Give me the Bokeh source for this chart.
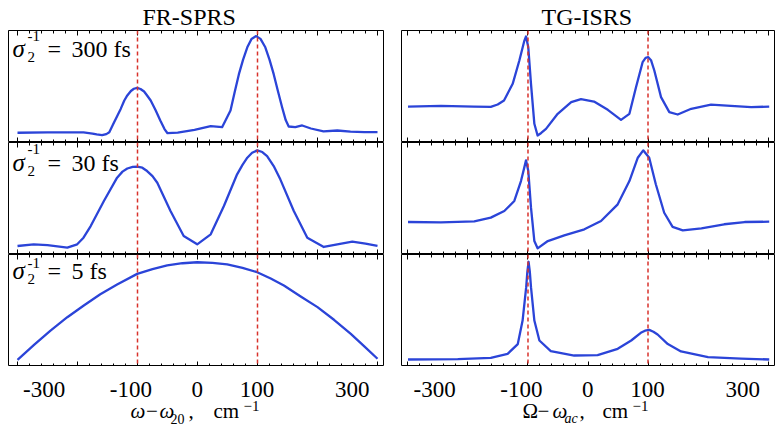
from bokeh.plotting import figure
from bokeh.models import (Range1d, LinearAxis, FixedTicker, Span, Title,
                          CustomLabelingPolicy)
from bokeh.core.properties import value
from bokeh.layouts import row, column
from bokeh.embed import file_html
from bokeh.resources import INLINE

# ---------------- data ----------------
column_titles = ["FR-SPRS", "TG-ISRS"]
pulse_widths = ["300", "30", "5"]          # sigma_2^-1 in fs, one per row
major_ticks = [-300, -200, -100, 0, 100, 200, 300]
minor_ticks = [-300, -280, -260, -240, -220, -200, -180, -160, -140, -120, -100,
               -80, -60, -40, -20, 0, 20, 40, 60, 80, 100, 120, 140, 160, 180,
               200, 220, 240, 260, 280, 300]
tick_label_text = ["-300", "-100", "0", "100", "300"]
mode_positions = [-100, 100]
x_label_parts = [["ω", "−", "ω", "20", ",", "cm", "−1"],
                 ["Ω", "−", "ω", "ac", ",", "cm", "−1"]]

# FR-SPRS, sigma^-1 = 300 fs
sprs300_x = [-300, -250, -190, -175, -168, -159, -152, -147, -140, -134, -128, -122, -117,
             -111, -106, -100.5, -95, -89, -84, -78, -70, -62, -55, -50, -33, -5, 22, 41,
             55, 62, 69, 76, 83, 90, 97.8, 105, 113, 120, 127, 134, 141, 147, 152, 163,
             174.5, 189, 210, 233, 255, 278, 300]
sprs300_y = [0.087, 0.09, 0.09, 0.08, 0.072, 0.065, 0.075, 0.092, 0.17, 0.235, 0.3, 0.375,
             0.42, 0.46, 0.48, 0.488, 0.478, 0.455, 0.42, 0.375, 0.29, 0.196, 0.12, 0.083,
             0.089, 0.113, 0.146, 0.137, 0.286, 0.45, 0.61, 0.74, 0.85, 0.925, 0.95, 0.925,
             0.85, 0.74, 0.61, 0.46, 0.315, 0.2, 0.143, 0.137, 0.152, 0.125, 0.1, 0.107,
             0.098, 0.092, 0.092]
# TG-ISRS, sigma^-1 = 300 fs
isrs300_x = [-300, -245, -190, -162, -150.5, -140, -125.5, -114.4, -106, -103.3, -99.5, -95,
             -89.4, -84, -78, -70, -50.5, -28, -11.7, 10, 33, 55, 69, 80, 91, 96, 100.5, 105,
             110.5, 121.7, 135.5, 149.5, 172, 205, 238, 272, 302]
isrs300_y = [0.321, 0.327, 0.321, 0.318, 0.339, 0.375, 0.524, 0.732, 0.91, 0.946, 0.85, 0.524,
             0.167, 0.0625, 0.085, 0.122, 0.256, 0.36, 0.387, 0.366, 0.292, 0.202, 0.256,
             0.494, 0.717, 0.755, 0.762, 0.735, 0.643, 0.405, 0.271, 0.25, 0.301, 0.339,
             0.327, 0.315, 0.321]
# FR-SPRS, sigma^-1 = 30 fs
sprs30_x = [-300, -273, -250, -217, -200.5, -190, -178, -156, -134, -125, -117, -108, -100.5,
            -92, -84, -75, -67, -45, -23, -0.5, 22, 44, 66, 75, 83, 91, 99.5, 108, 116, 127,
            138, 160.5, 183, 210.5, 233, 258, 280, 300]
sprs30_y = [0.076, 0.091, 0.083, 0.061, 0.091, 0.15, 0.254, 0.478, 0.686, 0.74, 0.768, 0.782,
            0.784, 0.775, 0.745, 0.7, 0.641, 0.388, 0.165, 0.091, 0.18, 0.433, 0.716, 0.8,
            0.864, 0.908, 0.93, 0.915, 0.879, 0.79, 0.671, 0.388, 0.149, 0.067, 0.091, 0.114,
            0.097, 0.076]
# TG-ISRS, sigma^-1 = 30 fs
isrs30_x = [-300, -245, -189.5, -162, -139.5, -122.8, -111.7, -106, -103.3, -99.5, -95,
            -89.4, -84, -67, -39.5, -6, 21.7, 49.5, 69, 83, 92, 102, 113, 127, 141, 158,
            189, 227, 261, 302]
isrs30_y = [0.29, 0.287, 0.295, 0.329, 0.388, 0.478, 0.656, 0.78, 0.841, 0.746, 0.418,
            0.12, 0.055, 0.12, 0.171, 0.225, 0.299, 0.448, 0.656, 0.864, 0.93, 0.864,
            0.627, 0.373, 0.246, 0.216, 0.234, 0.27, 0.29, 0.293]
# FR-SPRS, sigma^-1 = 5 fs
sprs5_x = [-300, -272, -245, -217, -189.5, -162, -134, -100.5, -75, -50.5, -25, -0.5, 25,
           49.5, 75, 99.5, 122, 144, 172, 200, 228, 255.5, 278, 300]
sprs5_y = [0.06, 0.195, 0.321, 0.44, 0.545, 0.645, 0.732, 0.827, 0.87, 0.902, 0.922, 0.931,
           0.925, 0.911, 0.88, 0.842, 0.785, 0.723, 0.625, 0.53, 0.415, 0.292, 0.18, 0.069]
# TG-ISRS, sigma^-1 = 5 fs
isrs5_x = [-300, -217, -162, -134, -117, -109, -103, -101, -99, -97, -95, -89.4, -81, -62,
           -23, 16, 49.5, 72, 88, 95, 102, 109, 116, 133, 155, 200, 255, 302]
isrs5_y = [0.0625, 0.0655, 0.077, 0.113, 0.2, 0.41, 0.708, 0.85, 0.935, 0.85, 0.708, 0.41,
           0.232, 0.137, 0.098, 0.101, 0.158, 0.232, 0.301, 0.32, 0.327, 0.31, 0.286, 0.2,
           0.134, 0.083, 0.071, 0.0625]

curves = [
    [(sprs300_x, sprs300_y), (isrs300_x, isrs300_y)],
    [(sprs30_x, sprs30_y), (isrs30_x, isrs30_y)],
    [(sprs5_x, sprs5_y), (isrs5_x, isrs5_y)],
]

# ---------------- layout / style ----------------
SERIF = "'Liberation Serif'"
BLUE = "#2b44d8"
RED = "#d8322b"
PXU = 0.6                                   # pixels per cm^-1
X_RANGES = [(-315.0, 310.0), (-310.8, 310.8)]
FRAME_W = [375, 373]
BORDER_LR = [(8, 18), (0, 6)]
FRAME_H = 112
TITLE_H = 30
LABEL_H = 62
TITLE_OFFSET = [134, 140]
MID = 0.35                                   # em fraction from baseline to text middle
TICK_LABEL_X = [-255.5, -111, -0.5, 99, 258]
TICK_LABEL_SIZE = 23
TICK_LABEL_BASE = 397                        # page px of baseline
X_LABEL_X = [[-111.7, -86, -63.5, -45, -15, 26.7, 76.7],
             [-109.2, -84.2, -59.2, -39.2, -14.2, 24.2, 74.2]]
X_LABEL_BASE = [418, 418, 418, 423, 418, 418, 411]
X_LABEL_SIZE = [21, 21, 21, 14, 21, 21, 15]
X_LABEL_STYLE = [["italic", "normal", "italic", "normal", "normal", "normal", "normal"],
                 ["normal", "normal", "italic", "italic", "normal", "normal", "normal"]]
STRIP_BOTTOM = 30 + 3 * 112 + 62             # page px of the label strip bottom
SIGMA_MAIN = [27, 29, 25]        # baseline, px below frame top
SIGMA_SUP = [11, 12, 14]


def tick_axis(loc):
    ax = LinearAxis(ticker=FixedTicker(ticks=major_ticks, minor_ticks=minor_ticks),
                    fixed_location=loc)
    ax.axis_line_color = "black"
    ax.major_tick_in = 5
    ax.major_tick_out = 0
    ax.minor_tick_in = 3
    ax.minor_tick_out = 0
    ax.major_tick_line_color = "black"
    ax.minor_tick_line_color = "black"
    ax.major_label_policy = CustomLabelingPolicy(code="return []")
    return ax


def txt(p, x, y, s, size, style="normal", align="left"):
    p.text(x=[x], y=[y], text=[s], text_font=value(SERIF),
           text_font_size=value(f"{size}px"), text_font_style=value(style),
           text_color="black", text_align=value(align), text_baseline=value("middle"))


def add_sigma_label(p, ci, ri):
    lo = X_RANGES[ci][0]

    def ymid(below_top, size):
        return (FRAME_H - (below_top - MID * size)) / FRAME_H

    b, s = SIGMA_MAIN[ri], SIGMA_SUP[ri]
    txt(p, lo + 4 / PXU, ymid(b, 25), "σ", 25, "italic")
    txt(p, lo + 19 / PXU, ymid(b + 5, 15), "2", 15)
    txt(p, lo + 19 / PXU, ymid(s, 15), "-1", 15)
    txt(p, lo + 39 / PXU, ymid(b, 24), "=", 24)
    txt(p, lo + 63 / PXU, ymid(b, 24), pulse_widths[ri] + " fs", 24)


def strip_y(base_px, size):
    return STRIP_BOTTOM - (base_px - MID * size)


columns = []
for ci in range(2):
    figs = []
    for ri in range(3):
        p = figure(frame_width=FRAME_W[ci], frame_height=FRAME_H,
                   x_range=Range1d(*X_RANGES[ci]), y_range=Range1d(0, 1),
                   x_axis_type=None, y_axis_type=None,
                   output_backend="svg", toolbar_location=None,
                   min_border_left=BORDER_LR[ci][0], min_border_right=BORDER_LR[ci][1],
                   min_border_top=TITLE_H if ri == 0 else 0, min_border_bottom=0)
        p.outline_line_color = "black"
        p.outline_line_width = 1
        p.background_fill_color = "white"
        p.border_fill_color = "white"
        p.add_layout(tick_axis(1), "above")
        p.add_layout(tick_axis(0), "below")
        if ri == 0:
            p.add_layout(Title(text=column_titles[ci], align="left",
                               offset=TITLE_OFFSET[ci], text_font=SERIF,
                               text_font_size="24px", text_font_style="normal",
                               text_color="black", standoff=2), "above")
        for m in mode_positions:
            p.add_layout(Span(location=m, dimension="height", line_color=RED,
                              line_dash="4 3", line_width=1.5))
        xs, ys = curves[ri][ci]
        p.line(xs, ys, line_color=BLUE, line_width=2.3, line_join="round")
        if ci == 0:
            add_sigma_label(p, ci, ri)
        figs.append(p)

    # tick labels and axis title strip under the bottom panel
    q = figure(frame_width=FRAME_W[ci], frame_height=LABEL_H,
               x_range=Range1d(*X_RANGES[ci]), y_range=Range1d(0, LABEL_H),
               x_axis_type=None, y_axis_type=None,
               output_backend="svg", toolbar_location=None,
               min_border_left=BORDER_LR[ci][0], min_border_right=BORDER_LR[ci][1],
               min_border_top=0, min_border_bottom=0)
    q.outline_line_color = None
    q.background_fill_color = "white"
    q.border_fill_color = "white"
    ty = strip_y(TICK_LABEL_BASE, TICK_LABEL_SIZE)
    q.text(x=TICK_LABEL_X, y=[ty] * len(TICK_LABEL_X), text=tick_label_text,
           text_font=value(SERIF), text_font_size=value(f"{TICK_LABEL_SIZE}px"),
           text_color="black", text_align=value("center"), text_baseline=value("middle"))
    for k, part in enumerate(x_label_parts[ci]):
        txt(q, X_LABEL_X[ci][k], strip_y(X_LABEL_BASE[k], X_LABEL_SIZE[k]), part,
            X_LABEL_SIZE[k], X_LABEL_STYLE[ci][k])
    figs.append(q)
    columns.append(column(*figs))

layout = row(*columns)
open("out.html", "w").write(file_html(layout, INLINE))
